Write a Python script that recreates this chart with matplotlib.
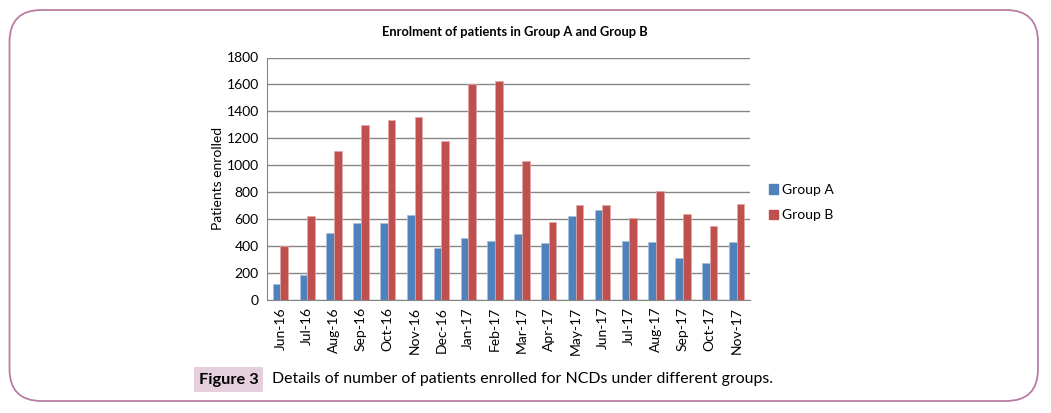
import matplotlib.pyplot as plt
import numpy as np
from matplotlib.patches import FancyBboxPatch, Patch

plt.rcParams['font.family'] = ['Lato', 'DejaVu Sans']

# data
months = ["Jun-16", "Jul-16", "Aug-16", "Sep-16", "Oct-16", "Nov-16", "Dec-16",
          "Jan-17", "Feb-17", "Mar-17", "Apr-17", "May-17", "Jun-17", "Jul-17",
          "Aug-17", "Sep-17", "Oct-17", "Nov-17"]
group_a = [121, 188, 494, 569, 571, 630, 383, 462, 438, 490, 425, 623, 665, 438, 433, 314, 272, 428]
group_b = [398, 626, 1108, 1296, 1333, 1357, 1179, 1605, 1629, 1029, 579, 705, 702, 608, 808, 640, 549, 710]
y_ticks = [0, 200, 400, 600, 800, 1000, 1200, 1400, 1600, 1800]

blue = '#4f81bd'
red = '#c0504d'
grid_col = '#868686'

W, H = 1051, 413
fig = plt.figure(figsize=(W / 100, H / 100), dpi=100)

# background layer in pixel coordinates for the frame and caption
bg = fig.add_axes([0, 0, 1, 1])
bg.set_xlim(0, W)
bg.set_ylim(H, 0)
bg.axis('off')
bg.add_patch(FancyBboxPatch((9.5, 10), 1028.5, 391, boxstyle="round,pad=0,rounding_size=32",
                            fill=False, edgecolor='#b87da3', linewidth=1.3))
bg.add_patch(plt.Rectangle((194, 367), 69, 25, facecolor='#e6cfdd', edgecolor='none'))
bg.text(228.5, 380, "Figure 3", ha='center', va='center', fontsize=11.8, fontweight='bold')
bg.text(272, 378.5, "Details of number of patients enrolled for NCDs under different groups.",
        ha='left', va='center', fontsize=11.4)

ax = fig.add_axes([267 / W, 1 - 300 / H, (750 - 267) / W, (300 - 57.5) / H])
x = np.arange(len(months))
bw = 1 / 3.5
ax.bar(x - bw / 2, group_a, bw, color=blue, edgecolor='#a7c0de', linewidth=0.5, label='Group A', zorder=3)
ax.bar(x + bw / 2, group_b, bw, color=red, edgecolor='#e0a8a6', linewidth=0.5, label='Group B', zorder=3)

ax.set_xlim(-0.5, len(months) - 0.5)
ax.set_ylim(0, 1800)
ax.set_yticks(y_ticks)
ax.set_xticks(x)
ax.set_xticklabels(months, rotation=90, fontsize=10)
ax.tick_params(axis='y', labelsize=10, length=0, pad=6)
ax.tick_params(axis='x', length=0, pad=5)
ax.yaxis.grid(True, color=grid_col, linewidth=1, zorder=0)
for s in ['top', 'right']:
    ax.spines[s].set_visible(False)
for s in ['left', 'bottom']:
    ax.spines[s].set_color(grid_col)
ax.set_ylabel("Patients enrolled", fontsize=10, labelpad=2)

fig.text(515 / W, 1 - 32 / H, "Enrolment of patients in Group A and Group B",
         ha='center', va='center', fontsize=9.3, fontweight='bold')

handles = [Patch(color=blue), Patch(color=red)]
fig.legend(handles, ['Group A', 'Group B'], loc='upper left',
           bbox_to_anchor=(756 / W, 1 - 171 / H), frameon=False, fontsize=10,
           handlelength=0.7, handleheight=0.7, handletextpad=0.3, labelspacing=1.0)

fig.savefig('out.png', dpi=100)
